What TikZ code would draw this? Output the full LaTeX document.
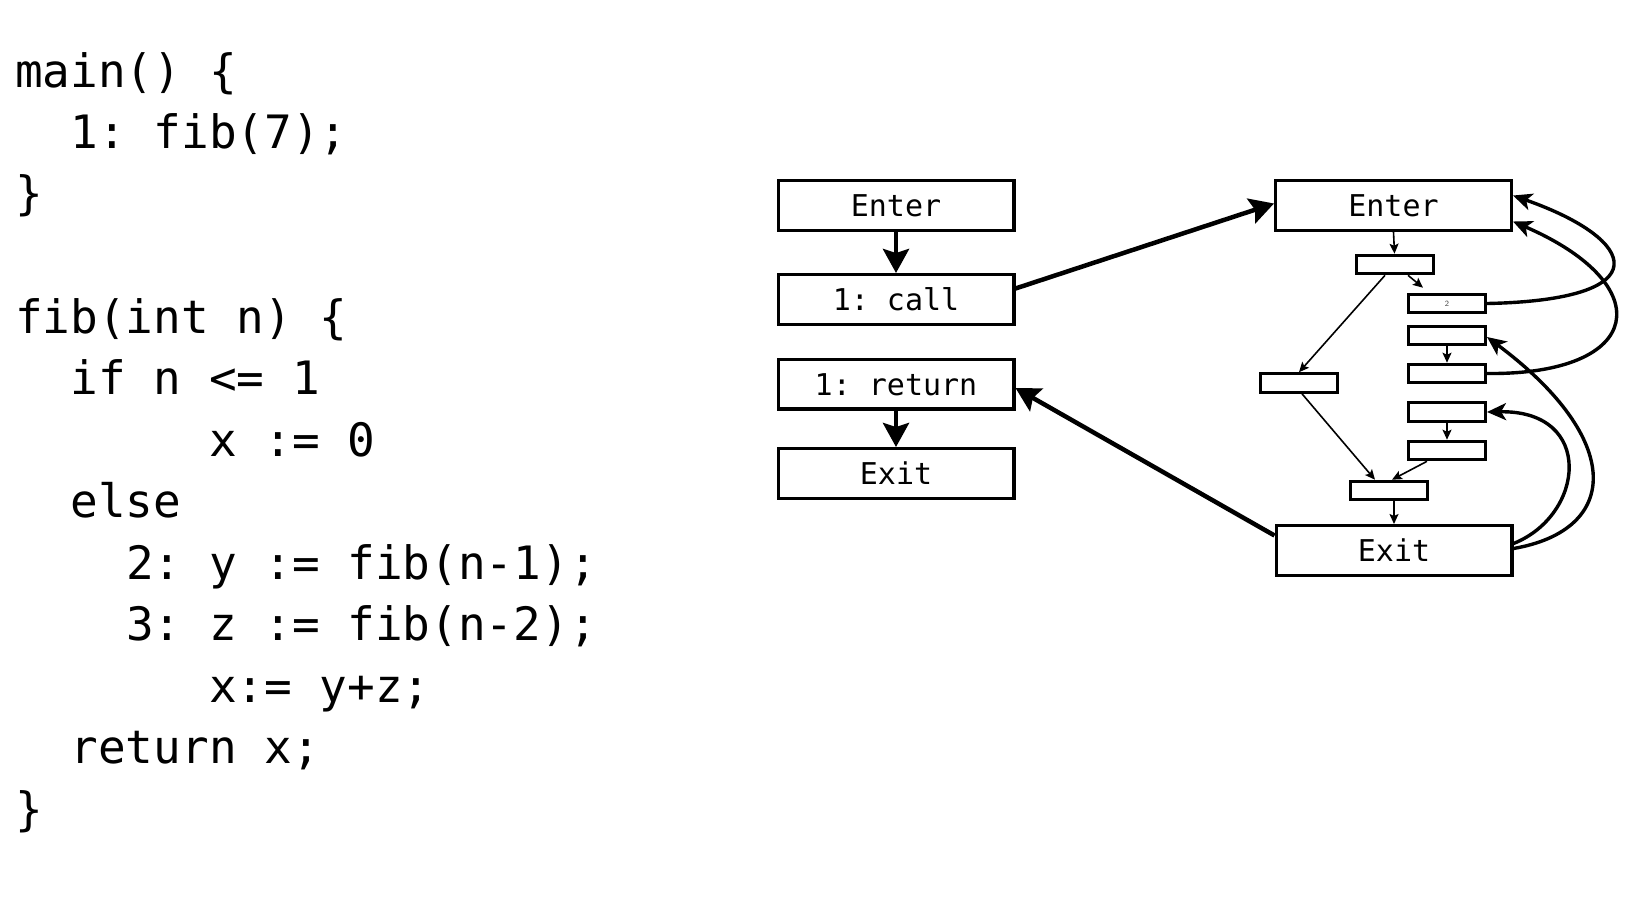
\documentclass[tikz,border=0pt]{standalone}
\usepackage{fontspec}
\newfontfamily\codefont{DejaVu Sans Mono}
\usetikzlibrary{arrows.meta}
\frenchspacing
\begin{document}
\begin{tikzpicture}[x=1pt,y=-1pt,
  codeline/.style={anchor=base west,inner sep=0pt,font=\codefont\fontsize{46}{55}\selectfont},
  bigbox/.style={draw,line width=3.4pt,minimum width=235.6pt,minimum height=49.6pt,inner sep=0pt,
     font=\codefont\fontsize{30}{36}\selectfont,text height=22pt,text depth=0pt},
  smallbox/.style={draw,line width=3pt,minimum width=77pt,minimum height=18.6pt,inner sep=0pt},
  thickarrow/.style={line width=4.5pt,-{Stealth[length=24pt,width=26pt,inset=4pt]}},
  curvearrow/.style={line width=3.4pt,-{Stealth[length=19pt,width=17pt,inset=5pt]}},
  thinarrow/.style={line width=1.6pt,-{Stealth[length=10pt,width=9pt,inset=2pt]}}]
\useasboundingbox (0,0) rectangle (1636,914);
% code
\node[codeline] (c0) at (15,87) {main() \{};
\node[codeline] (c1) at (70.4,148) {1: fib(7);};
\node[codeline] (c2) at (15,209) {\}};
\node[codeline] (c4) at (15,333) {fib(int n) \{};
\node[codeline] (c5) at (70.4,394) {if n <= 1};
\node[codeline] (c6) at (208.9,456) {x := 0};
\node[codeline] (c7) at (70.4,517) {else};
\node[codeline] (c8) at (125.8,579) {2: y := fib(n-1);};
\node[codeline] (c9) at (125.8,640) {3: z := fib(n-2);};
\node[codeline] (c10) at (208.9,702) {x:= y+z;};
\node[codeline] (c11) at (70.4,763) {return x;};
\node[codeline] (c12) at (15,825) {\}};
% main graph
\node[bigbox] (enterA) at (896,205.5) {Enter};
\node[bigbox] (call) at (896,299.5) {1: call};
\node[bigbox] (ret) at (896,384) {1: return};
\node[bigbox] (exitA) at (896,473.5) {Exit};
% fib graph
\node[bigbox] (enterB) at (1393.5,205.5) {Enter};
\node[bigbox] (exitB) at (1394,550.5) {Exit};
\node[smallbox] (b1) at (1394.5,264.5) {};
\node[smallbox] (b2) at (1447,303.5) {};
\node[font=\sffamily\fontsize{8}{9}\selectfont,text=black!75,inner sep=0pt] (lbl2) at (1447,303.5) {2};
\node[smallbox] (b3) at (1447,335.5) {};
\node[smallbox] (b4) at (1447,373.5) {};
\node[smallbox] (b5) at (1447,412) {};
\node[smallbox] (b6) at (1447,450.5) {};
\node[smallbox] (bl) at (1299,383) {};
\node[smallbox] (bj) at (1389,490.5) {};
% thick arrows
\draw[thickarrow] (enterA.south) -- (call.north);
\draw[thickarrow] (ret.south) -- (exitA.north);
\draw[thickarrow] ([yshift=11pt]call.east) -- ([yshift=2pt]enterB.west);
\draw[thickarrow] ([yshift=15pt]exitB.west) -- ([yshift=-4pt]ret.east);
% thin arrows
\draw[thinarrow] (enterB.south) -- (b1.north);
\draw[thinarrow] ([xshift=13.5pt]b1.south) -- ([xshift=-24pt,yshift=5pt]b2.north);
\draw[thinarrow] ([xshift=-9.5pt]b1.south) -- (bl.north);
\draw[thinarrow] ([xshift=3pt]bl.south) -- ([xshift=-14pt]bj.north);
\draw[thinarrow] (b3.south) -- (b4.north);
\draw[thinarrow] (b5.south) -- (b6.north);
\draw[thinarrow] ([xshift=-20pt]b6.south) -- ([xshift=3pt]bj.north);
\draw[thinarrow] ([xshift=5pt]bj.south) -- (exitB.north);
% curves
\draw[curvearrow] (b2.east) .. controls (1660,300) and (1640,240) .. ([yshift=10pt]enterB.east);
\draw[curvearrow] (b4.east) .. controls (1645,375) and (1660,285) .. ([yshift=-16pt]enterB.east);
\draw[curvearrow] ([yshift=2pt]exitB.east) .. controls (1620,530) and (1625,440) .. ([yshift=-1.5pt]b3.east);
\draw[curvearrow] ([yshift=7pt]exitB.east) .. controls (1585,515) and (1595,410) .. (b5.east);
\end{tikzpicture}
\end{document}
